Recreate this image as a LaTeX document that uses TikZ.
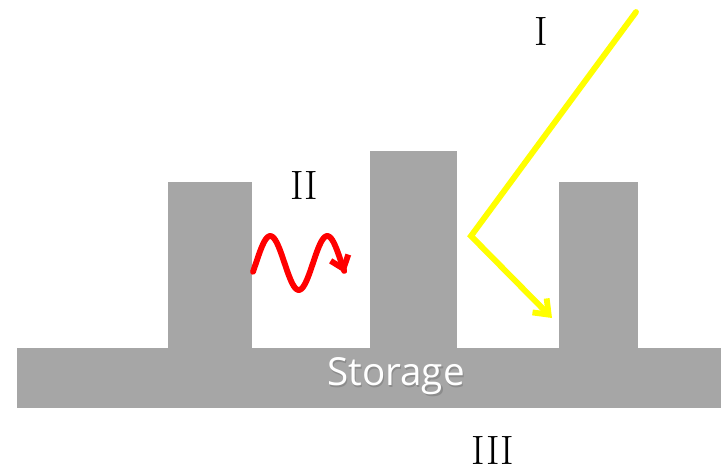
\documentclass[tikz,border=0pt]{standalone}
\usepackage{fontspec}
\setsansfont{Open Sans}
\usetikzlibrary{arrows.meta}

\definecolor{blockgray}{HTML}{A6A6A6}
\definecolor{rayyellow}{HTML}{FFFF00}

\tikzset{
  block/.style={fill=blockgray},
  roman/.style={font=\fontsize{35}{35}\selectfont, inner sep=0pt},
  ray/.style={line width=5pt, line cap=round, line join=miter}
}

\newcommand{\shadowtext}[1]{\makebox[0pt][l]{\hspace{1.2pt}\raisebox{-1.2pt}{\color{black!45}#1}}#1}

\begin{document}
\begin{tikzpicture}[x=0.03cm, y=-0.03cm]
  % Frame
  \useasboundingbox (0,0) rectangle (721,470);

  % Storage bar and pillars
  \fill[block] (17,348) rectangle (721,408);
  \fill[block] (168,182) rectangle (252,349);
  \fill[block] (370,151) rectangle (457,349);
  \fill[block] (559,182) rectangle (638,349);

  % Storage label with a soft shadow
  \node[text=white, font=\sffamily\fontsize{33}{33}\selectfont] (storage) at (396,377) {\shadowtext{Storage}};

  % Labels
  \node[roman] (one) at (541,31) {I};
  \node[roman] (two) at (304,185) {II};
  \node[roman] (three) at (493,450) {III};

  % Incoming and reflected ray
  \coordinate (raystart) at (636,12);
  \coordinate (bounce) at (471,236);
  \coordinate (rayend) at (552,318);
  \draw[ray, rayyellow, -{Straight Barb[length=11pt, width=17pt, line width=5pt]}]
    (raystart) -- (bounce) -- (rayend);

  % Wave between the pillars
  \draw[ray, red, line join=round, -{Straight Barb[length=10pt, width=16pt, line width=5pt]}]
    plot[domain=253:345, samples=80, smooth] (\x, {263 - 27*sin(6.3158*(\x-256))});
\end{tikzpicture}
\end{document}
